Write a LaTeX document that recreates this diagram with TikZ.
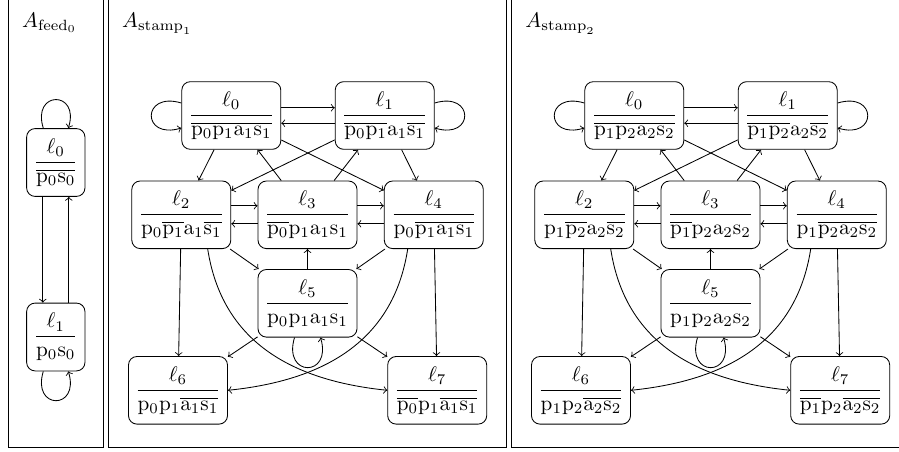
\documentclass[tikz,border=0pt]{standalone}
\usetikzlibrary{calc}

% upright propositions
\newcommand\vP{\mathrm{p}}
\newcommand\vA{\mathrm{a}}
\newcommand\vS{\mathrm{s}}
% location label: name over its valuation
\newcommand\stloc[2]{$\displaystyle\frac{\ell_{#1}}{#2}$}

\tikzset{
  locbox/.style={draw, rounded corners=4pt, inner sep=0pt,
                 minimum width=46.7pt, minimum height=31.9pt},
  feedbox/.style={locbox, minimum width=27.5pt, minimum height=32pt},
  trans/.style={->},
  panel/.style={draw},
  title/.style={anchor=base west, inner sep=0pt},
}

% one stamp automaton: #1 name prefix, #2 horizontal offset,
% #3 index of the first proposition, #4 index of the others
\newcommand\stampgraph[4]{%
  \node[locbox] (#1-0) at ({#2+231.3},115.5)
    {\stloc{0}{\overline{\vP_{#3}\vP_{#4}\vA_{#4}\vS_{#4}}}};
  \node[locbox] (#1-1) at ({#2+384.7},115.5)
    {\stloc{1}{\overline{\vP_{#3}\vP_{#4}}\vA_{#4}\overline{\vS_{#4}}}};
  \node[locbox] (#1-2) at ({#2+181.3},214.8)
    {\stloc{2}{\vP_{#3}\overline{\vP_{#4}}\vA_{#4}\overline{\vS_{#4}}}};
  \node[locbox] (#1-3) at ({#2+307.5},214.8)
    {\stloc{3}{\overline{\vP_{#3}}\vP_{#4}\vA_{#4}\vS_{#4}}};
  \node[locbox] (#1-4) at ({#2+433.8},214.8)
    {\stloc{4}{\vP_{#3}\overline{\vP_{#4}\vA_{#4}\vS_{#4}}}};
  \node[locbox] (#1-5) at ({#2+307.5},303.3)
    {\stloc{5}{\vP_{#3}\vP_{#4}\vA_{#4}\vS_{#4}}};
  \node[locbox] (#1-6) at ({#2+178},390.3)
    {\stloc{6}{\vP_{#3}\vP_{#4}\overline{\vA_{#4}\vS_{#4}}}};
  \node[locbox] (#1-7) at ({#2+437.2},390.3)
    {\stloc{7}{\overline{\vP_{#3}}\vP_{#4}\overline{\vA_{#4}\vS_{#4}}}};
  % self loops
  \draw[trans] ($(#1-0.west)+(0,-12.5)$) .. controls +(-40,-12) and +(-40,12) .. ($(#1-0.west)+(0,12.5)$);
  \draw[trans] ($(#1-1.east)+(0,-12.5)$) .. controls +(40,-12) and +(40,12) .. ($(#1-1.east)+(0,12.5)$);
  \draw[trans] ($(#1-5.south)+(-13,0)$) .. controls +(-12,40) and +(12,40) .. ($(#1-5.south)+(13,0)$);
  % paired horizontal transitions
  \draw[trans] ($(#1-0.east)+(0,-7.7)$) -- ($(#1-1.west)+(0,-7.7)$);
  \draw[trans] ($(#1-1.west)+(0,7.7)$) -- ($(#1-0.east)+(0,7.7)$);
  \draw[trans] ($(#1-2.east)+(0,-9)$) -- ($(#1-3.west)+(0,-9)$);
  \draw[trans] ($(#1-3.west)+(0,9)$) -- ($(#1-2.east)+(0,9)$);
  \draw[trans] ($(#1-3.east)+(0,-9)$) -- ($(#1-4.west)+(0,-9)$);
  \draw[trans] ($(#1-4.west)+(0,9)$) -- ($(#1-3.east)+(0,9)$);
  % straight transitions
  \draw[trans] (#1-0) -- (#1-2);
  \draw[trans] (#1-0) -- (#1-4);
  \draw[trans] (#1-1) -- (#1-2);
  \draw[trans] (#1-1) -- (#1-4);
  \draw[trans] (#1-3) -- (#1-0);
  \draw[trans] (#1-3) -- (#1-1);
  \draw[trans] (#1-2) -- (#1-5);
  \draw[trans] (#1-4) -- (#1-5);
  \draw[trans] (#1-5) -- (#1-3);
  \draw[trans] (#1-2) -- (#1-6);
  \draw[trans] (#1-4) -- (#1-7);
  \draw[trans] (#1-5) -- (#1-6);
  \draw[trans] (#1-5) -- (#1-7);
  % long crossing arcs
  \draw[trans] ($(#1-2.south)+(26.4,0)$) .. controls +(14.3,92) and +(-96.7,-10) .. (#1-7.west);
  \draw[trans] ($(#1-4.south)+(-26.1,0)$) .. controls +(-14.3,92) and +(96.7,-10) .. (#1-6.east);
}

\begin{document}
\begin{tikzpicture}[x=0.4717pt, y=-0.4717pt]
  \useasboundingbox (0,0) rectangle (899,451);
  \clip (0,0) rectangle (899,451);

  % frames
  \draw[panel] (8,-10) rectangle (103.3,447.7);
  \draw[panel] (108.3,-10) rectangle (506,447.7);
  \draw[panel] (511.7,-10) rectangle (909,447.7);

  % titles
  \node[title] (t0) at (21.7,27.5) {$A_{\mathrm{feed}_0}$};
  \node[title] (t1) at (121.7,27.5) {$A_{\mathrm{stamp}_1}$};
  \node[title] (t2) at (525,27.5) {$A_{\mathrm{stamp}_2}$};

  % feed automaton
  \node[feedbox] (f0) at (55.8,162.5) {\stloc{0}{\overline{\vP_0\vS_0}}};
  \node[feedbox] (f1) at (55.8,337) {\stloc{1}{\vP_0\vS_0}};
  \draw[trans] ($(f0.south)+(-13,0)$) -- ($(f1.north)+(-13,0)$);
  \draw[trans] ($(f1.north)+(13,0)$) -- ($(f0.south)+(13,0)$);
  \draw[trans] ($(f0.north)+(-12.5,0)$) .. controls +(-12,-38) and +(12,-38) .. ($(f0.north)+(12.5,0)$);
  \draw[trans] ($(f1.south)+(-12.5,0)$) .. controls +(-12,39) and +(12,39) .. ($(f1.south)+(12.5,0)$);

  % stamp automata
  \stampgraph{a}{0}{0}{1}
  \stampgraph{b}{403}{1}{2}
\end{tikzpicture}
\end{document}
